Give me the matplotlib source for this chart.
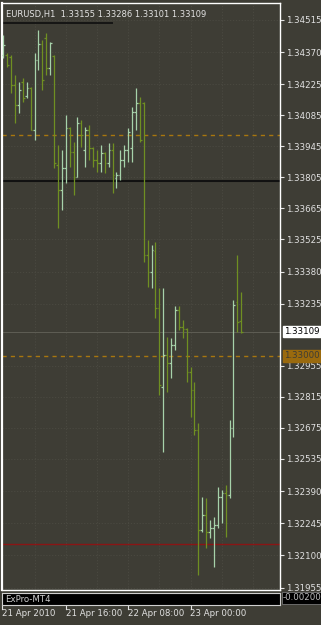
import numpy as np
import pandas as pd
import matplotlib
matplotlib.use("Agg")
import matplotlib.pyplot as plt
from matplotlib.lines import Line2D

symbol = "EURUSD,H1"

# EURUSD H1 bars, first bar 21 Apr 2010 00:00
opens = [1.34357, 1.34357, 1.34348, 1.34222, 1.34131, 1.34235, 1.34172, 1.34208,
         1.34019, 1.34334, 1.34407, 1.34434, 1.34298, 1.34352, 1.33861, 1.33748,
         1.33848, 1.34028, 1.33920, 1.33807, 1.34050, 1.33929, 1.34019, 1.33938,
         1.33883, 1.33870, 1.33915, 1.33870, 1.33929, 1.33802, 1.33816, 1.33883,
         1.33929, 1.33938, 1.34100, 1.34140,
         1.34140, 1.33455, 1.33378, 1.33473, 1.33216, 1.32860, 1.33004, 1.32968,
         1.33049, 1.33207, 1.33130, 1.33121, 1.32927, 1.32846, 1.32666, 1.32215,
         1.32282, 1.32206, 1.32224, 1.32237, 1.32364, 1.32382, 1.32373, 1.32675,
         1.33243, 1.33155]
highs = [1.34447, 1.34366, 1.34357, 1.34267, 1.34235, 1.34253, 1.34235, 1.34213,
         1.34366, 1.34470, 1.34425, 1.34456, 1.34416, 1.34357, 1.33951, 1.33929,
         1.34086, 1.34032, 1.33965, 1.34077, 1.34064, 1.34032, 1.34041, 1.33942,
         1.33929, 1.33951, 1.33920, 1.33960, 1.33960, 1.33830, 1.33929, 1.33951,
         1.34028, 1.34122, 1.34208, 1.34168,
         1.34145, 1.33523, 1.33500, 1.33514, 1.33306, 1.33306, 1.33085, 1.33081,
         1.33225, 1.33225, 1.33163, 1.33126, 1.32950, 1.32882, 1.32697, 1.32364,
         1.32359, 1.32260, 1.32273, 1.32409, 1.32395, 1.32418, 1.32711, 1.33252,
         1.33455, 1.33286]
lows = [1.34343, 1.34303, 1.34186, 1.34050, 1.34095, 1.34145, 1.34163, 1.34019,
        1.33974, 1.34289, 1.34199, 1.34267, 1.34267, 1.33848, 1.33577, 1.33658,
        1.33780, 1.33853, 1.33726, 1.33807, 1.33942, 1.33853, 1.33883, 1.33853,
        1.33830, 1.33830, 1.33825, 1.33853, 1.33735, 1.33757, 1.33793, 1.33853,
        1.33874, 1.33874, 1.34019, 1.33965,
        1.33423, 1.33311, 1.33306, 1.33171, 1.32824, 1.32566, 1.32837, 1.32900,
        1.33027, 1.33117, 1.33081, 1.32882, 1.32724, 1.32643, 1.32012, 1.32206,
        1.32134, 1.32179, 1.32048, 1.32224, 1.32246, 1.32183, 1.32359, 1.32634,
        1.33108, 1.33101]
closes = [1.34402, 1.34312, 1.34222, 1.34131, 1.34199, 1.34163, 1.34208, 1.34019,
          1.34334, 1.34407, 1.34244, 1.34298, 1.34411, 1.33870, 1.33748, 1.33848,
          1.34028, 1.33920, 1.33807, 1.34050, 1.33996, 1.34019, 1.33938, 1.33883,
          1.33870, 1.33915, 1.33870, 1.33929, 1.33816, 1.33816, 1.33883, 1.33929,
          1.34010, 1.34100, 1.34140, 1.33974,
          1.33455, 1.33378, 1.33478, 1.33216, 1.32869, 1.33004, 1.32968, 1.33049,
          1.33207, 1.33130, 1.33121, 1.32927, 1.32846, 1.32666, 1.32215, 1.32282,
          1.32206, 1.32224, 1.32237, 1.32364, 1.32382, 1.32373, 1.32675, 1.33230,
          1.33153, 1.33109]

price_ticks = [1.34515, 1.34370, 1.34225, 1.34085, 1.33945, 1.33805, 1.33665,
               1.33525, 1.33380, 1.33235, 1.32955, 1.32815, 1.32675, 1.32535,
               1.32390, 1.32245, 1.32100, 1.31955]
bid = 1.33109
alert_level = 1.33000
dashed_level = 1.33996
black_level = 1.33789
red_level = 1.32152
date_labels = ["21 Apr 2010", "21 Apr 16:00", "22 Apr 08:00", "23 Apr 00:00"]
date_ticks = ["2010-04-21 00:00", "2010-04-21 16:00", "2010-04-22 08:00", "2010-04-23 00:00"]

BG = "#3e3d35"
GRID = "#4c4b42"
UP = "#a6d2aa"
DOWN = "#6f8f22"
TXT = "#e2e2e2"

W, H = 321, 625
fig = plt.figure(figsize=(W / 100, H / 100), dpi=100, facecolor=BG)

# main chart: pixel box x 2..280, y 3..590
ax = fig.add_axes([2 / W, (H - 590) / H, 278 / W, 587 / H])
ax.set_facecolor(BG)

times = pd.date_range("2010-04-21 00:00", periods=len(opens), freq="h")
x = np.arange(len(opens))
o, hi, lo, c = map(np.array, (opens, highs, lows, closes))
cols = np.where(c >= o, UP, DOWN)

pitch = 3.9  # px per bar
ax.set_xlim(-1.3 / pitch, -1.3 / pitch + 278 / pitch)
ax.set_ylim(1.31944, 1.34591)

# grid, every 8 bars vertically and at each price label
for gx in range(8, 72, 8):
    ax.axvline(gx, color=GRID, lw=0.6, ls=(0, (1.5, 2)), zorder=0)
for p in price_ticks:
    ax.axhline(p, color=GRID, lw=0.6, ls=(0, (1.5, 2)), zorder=0)

# horizontal levels
ax.axhline(black_level, color="#111111", lw=1.5, zorder=1)
ax.axhline(dashed_level, color="#a8760f", lw=1.0, ls=(0, (3, 3)), zorder=1)
ax.axhline(alert_level, color="#a8760f", lw=1.0, ls=(0, (3, 3)), zorder=1)
ax.axhline(red_level, color="#8a1515", lw=1.0, zorder=1)
ax.axhline(bid, color="#5e5d54", lw=0.7, zorder=1)
ax.add_line(Line2D([0.004, 0.395], [0.966, 0.966], transform=ax.transAxes,
                   color="#151515", lw=1.4))

ax.vlines(x, lo, hi, colors=cols, lw=0.9, zorder=3)
ax.hlines(o, x - 0.45, x, colors=cols, lw=0.9, zorder=3)
ax.hlines(c, x, x + 0.45, colors=cols, lw=0.9, zorder=3)

for s in ax.spines.values():
    s.set_color("white")
    s.set_linewidth(1.0)
ax.spines["left"].set_linewidth(1.6)
ax.set_xticks([])
ax.yaxis.tick_right()
ax.set_yticks(price_ticks)
ax.set_yticklabels([f"{p:.5f}" for p in price_ticks])
ax.tick_params(axis="y", colors=TXT, length=3, width=0.8, pad=1.5, labelsize=6.2)

ax.text(0.015, 0.988, f"{symbol}  {opens[-1]:.5f} {highs[-1]:.5f} {lows[-1]:.5f} {closes[-1]:.5f}",
        transform=ax.transAxes, color=TXT, fontsize=6.0, va="top", ha="left")

ax.annotate(f"{bid:.5f}", xy=(1, bid), xycoords=("axes fraction", "data"),
            xytext=(3, 0), textcoords="offset points", va="center", ha="left",
            fontsize=6.2, color="black",
            bbox=dict(boxstyle="square,pad=0.15", fc="white", ec="white"))
ax.annotate(f"{alert_level:.5f}", xy=(1, alert_level), xycoords=("axes fraction", "data"),
            xytext=(3, 0), textcoords="offset points", va="center", ha="left",
            fontsize=6.2, color="#3e3d35",
            bbox=dict(boxstyle="square,pad=0.15", fc="#9a6a0e", ec="#9a6a0e"))

# indicator sub-window
ax2 = fig.add_axes([2 / W, (H - 605) / H, 278 / W, 12 / H])
ax2.set_facecolor("black")
ax2.set_xlim(ax.get_xlim())
ax2.set_ylim(0, 1)
ax2.set_yticks([])
ax2.set_xticks([])
for s in ax2.spines.values():
    s.set_color("#cfcfcf")
    s.set_linewidth(0.8)
ax2.text(0.01, 0.45, "ExPro-MT4", transform=ax2.transAxes, color="#d0d0d0",
         fontsize=6.2, va="center", ha="left")
fig.text(283 / W, 1 - 598 / H, "-0.00200", color="#bdbdbd", fontsize=6.2,
         va="center", ha="left",
         bbox=dict(boxstyle="square,pad=0.15", fc="black", ec="#777777", lw=0.6))

# time labels under the sub-window
for lab, t in zip(date_labels, date_ticks):
    xi = times.get_loc(pd.Timestamp(t))
    xp = ax.transData.transform((xi, 0))[0] / W
    if lab == date_labels[0]:
        xp = 2 / W
    fig.text(xp, 1 - 614 / H, lab, color=TXT, fontsize=6.2, va="center", ha="left")
    fig.add_artist(Line2D([xp, xp], [1 - 606 / H, 1 - 609 / H], color=TXT, lw=0.8))

fig.savefig("out.png", dpi=100, facecolor=BG)
